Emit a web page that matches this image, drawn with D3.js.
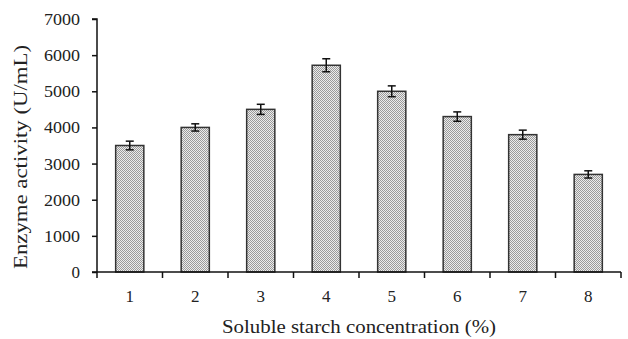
<!DOCTYPE html>
<html><head><meta charset="utf-8">
<script src="https://cdn.jsdelivr.net/npm/d3@7"></script>
<style>body{margin:0;background:#fff}svg{display:block}text{font-family:"Liberation Serif","DejaVu Serif",serif;fill:#222}</style>
</head><body>
<svg id="c" width="628" height="339"></svg>
<script>
const categories = ["1","2","3","4","5","6","7","8"];
const values = [3500, 4000, 4500, 5720, 5000, 4300, 3800, 2700];
const errors = [120, 100, 140, 180, 150, 130, 125, 100];
const yTicks = [0,1000,2000,3000,4000,5000,6000,7000];

const svg = d3.select("#c");
const m = {l:97, r:621, t:19, b:272};
const x = d3.scaleBand().domain(categories).range([m.l, m.r]).paddingInner(0.57).paddingOuter(0.285);
const xb = d3.scaleBand().domain(categories).range([m.l, m.r]);
const y = d3.scaleLinear().domain([0,7000]).range([m.b, m.t]);

const defs = svg.append("defs");
const p = defs.append("pattern").attr("id","dots").attr("width",2).attr("height",2).attr("patternUnits","userSpaceOnUse");
p.append("rect").attr("width",2).attr("height",2).attr("fill","#ececec");
p.append("rect").attr("width",1).attr("height",1).attr("fill","#9a9a9a");
p.append("rect").attr("x",1).attr("y",1).attr("width",1).attr("height",1).attr("fill","#9a9a9a");

svg.selectAll("rect.bar").data(values).join("rect").attr("class","bar")
  .attr("x",(d,i)=>x(categories[i])).attr("width",x.bandwidth())
  .attr("y",d=>y(d)).attr("height",d=>y(0)-y(d))
  .attr("fill","url(#dots)").attr("stroke","#333").attr("stroke-width",1.5);

const eg = svg.append("g").attr("stroke","#111").attr("stroke-width",1.5);
values.forEach((v,i)=>{
  const cx = x(categories[i]) + x.bandwidth()/2;
  eg.append("line").attr("x1",cx).attr("x2",cx).attr("y1",y(v+errors[i])).attr("y2",y(v-errors[i]));
  eg.append("line").attr("x1",cx-4).attr("x2",cx+4).attr("y1",y(v+errors[i])).attr("y2",y(v+errors[i]));
  eg.append("line").attr("x1",cx-4).attr("x2",cx+4).attr("y1",y(v-errors[i])).attr("y2",y(v-errors[i]));
});

// y axis
const ya = svg.append("g").attr("transform",`translate(${m.l},0)`)
  .call(d3.axisLeft(y).tickValues(yTicks).tickSize(5).tickPadding(12).tickFormat(d3.format("d")));
ya.select(".domain").attr("stroke","#111").attr("stroke-width",1.5).attr("d",`M-5,${m.t}H0V${m.b}`);
ya.selectAll(".tick line").attr("stroke","#111").attr("stroke-width",1.5);
ya.selectAll(".tick text").attr("font-size",17).attr("fill","#222").attr("textLength",36).attr("lengthAdjust","spacingAndGlyphs")
  .filter(d=>d===0).attr("textLength",null);

// x axis
const xa = svg.append("g").attr("transform",`translate(0,${m.b})`);
xa.append("line").attr("x1",m.l-5).attr("x2",m.r).attr("y1",0).attr("y2",0).attr("stroke","#111").attr("stroke-width",1.5);
const bounds = categories.map(c=>xb(c)).concat([m.r]);
xa.selectAll("line.tk").data(bounds).join("line").attr("class","tk")
  .attr("x1",d=>d).attr("x2",d=>d).attr("y1",0).attr("y2",6).attr("stroke","#111").attr("stroke-width",1.5);
xa.selectAll("text").data(categories).join("text")
  .attr("x",d=>xb(d)+xb.bandwidth()/2).attr("y",30).attr("text-anchor","middle").attr("font-size",17).text(d=>d);

svg.append("text").attr("x",359).attr("y",333).attr("text-anchor","middle").attr("font-size",19)
  .attr("textLength",274).attr("lengthAdjust","spacingAndGlyphs")
  .text("Soluble starch concentration (%)");
svg.append("text").attr("transform","translate(27,157) rotate(-90)").attr("text-anchor","middle").attr("font-size",19)
  .attr("textLength",224).attr("lengthAdjust","spacingAndGlyphs")
  .text("Enzyme activity (U/mL)");
</script>
</body></html>
